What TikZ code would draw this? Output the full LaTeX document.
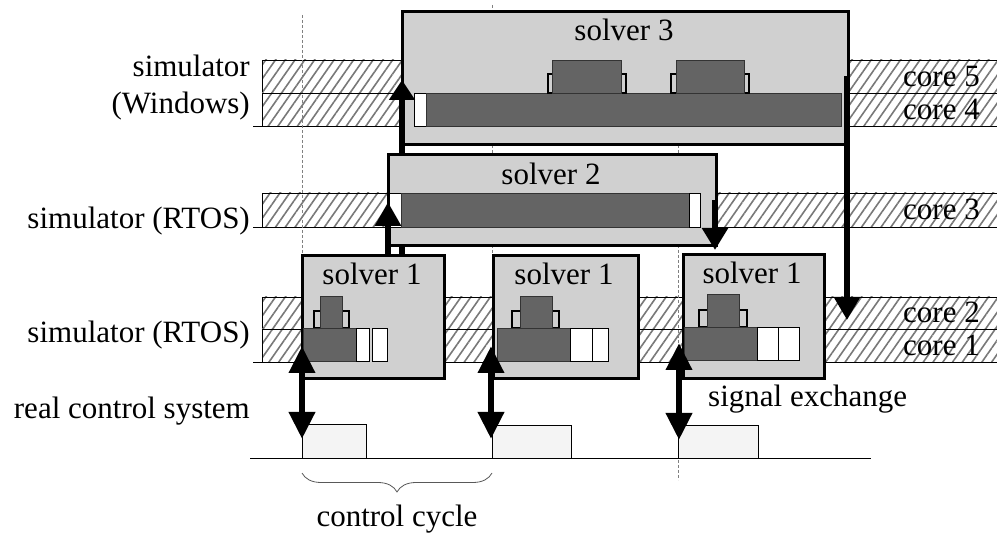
\documentclass[tikz,border=0pt]{standalone}
\usepackage{fontspec}
\setmainfont{Liberation Serif}
\usetikzlibrary{arrows.meta,patterns.meta,decorations.pathreplacing}
\definecolor{boxgray}{HTML}{D0D0D0}
\definecolor{taskdark}{HTML}{646464}
\definecolor{ctrlfill}{HTML}{F4F4F4}
\definecolor{hatchgray}{HTML}{787878}
\tikzset{
  lbl/.style={font=\fontsize{31}{36}\selectfont, inner sep=0pt},
  band/.style={draw=black, line width=0.8pt,
    pattern={Lines[angle=55,distance=8pt,line width=1.6pt]}, pattern color=hatchgray},
  solver/.style={draw=black, line width=3pt, fill=boxgray, inner sep=0pt, anchor=north west},
  task/.style={draw=black!80, line width=0.8pt, fill=taskdark},
  slot/.style={draw=black, line width=0.8pt, fill=white},
  holder/.style={draw=black, line width=2.2pt, fill=boxgray},
  ctrl/.style={draw=black, line width=0.8pt, fill=ctrlfill},
  link/.style={line width=6.5pt, -{Triangle[width=25pt,length=24pt]}},
  duplex/.style={line width=6.5pt, {Triangle[width=25pt,length=27pt]}-{Triangle[width=25pt,length=27pt]}},
  tick/.style={draw=gray, line width=0.6pt, dash pattern=on 3pt off 2pt}
}
\begin{document}
\begin{tikzpicture}[x=1pt,y=-1pt]
\useasboundingbox (0,0) rectangle (997,537);

% hatched core bands
\draw[band] (262,60) rectangle (1000,93);
\draw[band] (262,93) rectangle (1000,126);
\draw[band] (262,193) rectangle (1000,227);
\draw[band] (262,297) rectangle (1000,329);
\draw[band] (262,329) rectangle (1000,362);
\draw[line width=0.8pt] (253,126) -- (262,126);
\draw[line width=0.8pt] (253,227) -- (262,227);
\draw[line width=0.8pt] (253,362) -- (262,362);

% control cycle ticks
\draw[tick] (302,15) -- (302,458);
\draw[tick] (492,5) -- (492,458);
\draw[tick] (678,15) -- (678,480);

% real control system time line
\draw[line width=0.8pt] (250,458) -- (871,458);
\node[ctrl, inner sep=0pt, minimum width=64pt, minimum height=34pt, anchor=north west] (rc1) at (302,424) {};
\node[ctrl, inner sep=0pt, minimum width=79pt, minimum height=33pt, anchor=north west] (rc2) at (492,425) {};
\node[ctrl, inner sep=0pt, minimum width=80pt, minimum height=33pt, anchor=north west] (rc3) at (678,425) {};

% brace
\draw[gray!70!black, line width=0.8pt, decorate, decoration={brace, amplitude=19pt, mirror}]
  (302,473) coordinate (cc1) -- (492,473) coordinate (cc2);

% labels on the left
\node[lbl, anchor=base east] (simw1) at (250,77) {simulator};
\node[lbl, anchor=base east] (simw2) at (250,114) {(Windows)};
\node[lbl, anchor=base east] (simr1) at (250,229) {simulator (RTOS)};
\node[lbl, anchor=base east] (simr2) at (250,343) {simulator (RTOS)};
\node[lbl, anchor=base east] (rcs) at (250,419) {real control system};

% core labels
\node[lbl, anchor=base east] (c5) at (980,87) {core 5};
\node[lbl, anchor=base east] (c4) at (980,120) {core 4};
\node[lbl, anchor=base east] (c3) at (980,220) {core 3};
\node[lbl, anchor=base east] (c2) at (980,323) {core 2};
\node[lbl, anchor=base east] (c1) at (980,356) {core 1};

\node[lbl, anchor=base west] (sig) at (708,407) {signal exchange};
\node[lbl, anchor=base] (ccl) at (397,526) {control cycle};

% solver 3
\node[solver, minimum width=446pt, minimum height=133pt] (s3) at (401,10) {};
\node[lbl, anchor=base] (s3t) at (624,41) {solver 3};
\draw[slot] (414,93) rectangle (426,126);
\draw[task] (426,93) rectangle (841,126);
\draw[holder] (548,74) rectangle (626,93);
\draw[task] (552,60) rectangle (621,93);
\draw[holder] (671,74) rectangle (749,93);
\draw[task] (676,60) rectangle (744,93);

% solver 1 -> solver 3
\coordinate (u3a) at (402,254);
\coordinate (u3b) at (402,80);
\draw[link, -{Triangle[width=25pt,length=20pt]}] (u3a) -- (u3b);

% solver 2
\node[solver, minimum width=328pt, minimum height=91pt] (s2) at (387,153) {};
\node[lbl, anchor=base] (s2t) at (551,185) {solver 2};
\draw[slot] (389,193) rectangle (401,227);
\draw[task] (401,193) rectangle (689,227);
\draw[slot] (689,193) rectangle (700,227);

% solver 1 -> solver 2
\coordinate (u2a) at (388,254);
\coordinate (u2b) at (388,202);
\draw[link] (u2a) -- (u2b);

% solver 1, first cycle
\node[solver, minimum width=142pt, minimum height=123pt] (s1a) at (301,254) {};
\node[lbl, anchor=base] (s1at) at (372,285) {solver 1};
\draw[holder] (314,311) rectangle (349,328);
\draw[task] (320,296) rectangle (342,328);
\draw[task] (303,328) rectangle (356,361);
\draw[slot] (356,328) rectangle (369,361);
\draw[slot] (372,328) rectangle (387,361);

% solver 1, second cycle
\node[solver, minimum width=145pt, minimum height=123pt] (s1b) at (492,254) {};
\node[lbl, anchor=base] (s1bt) at (564,285) {solver 1};
\draw[holder] (512,311) rectangle (559,328);
\draw[task] (520,296) rectangle (552,328);
\draw[task] (497,328) rectangle (570,361);
\draw[slot] (570,328) rectangle (592,361);
\draw[slot] (592,328) rectangle (608,361);

% solver 1, third cycle
\node[solver, minimum width=141pt, minimum height=124pt] (s1c) at (682,253) {};
\node[lbl, anchor=base] (s1ct) at (752,284) {solver 1};
\draw[holder] (699,310) rectangle (747,327);
\draw[task] (707,294) rectangle (739,327);
\draw[task] (684,327) rectangle (757,360);
\draw[slot] (757,327) rectangle (778,360);
\draw[slot] (778,327) rectangle (799,360);

% results passed back
\coordinate (d2a) at (715,200);
\coordinate (d2b) at (715,250);
\draw[link, -{Triangle[width=25pt,length=22pt]}] (d2a) -- (d2b);
\coordinate (d3a) at (847,76);
\coordinate (d3b) at (847,320);
\draw[link, -{Triangle[width=25pt,length=23pt]}] (d3a) -- (d3b);

% signal exchange with the real control system
\coordinate (x1a) at (302,346);
\coordinate (x1b) at (302,439);
\coordinate (x2a) at (491,346);
\coordinate (x2b) at (491,439);
\coordinate (x3a) at (679,343);
\coordinate (x3b) at (679,440);
\draw[duplex] (x1a) -- (x1b);
\draw[duplex] (x2a) -- (x2b);
\draw[duplex] (x3a) -- (x3b);
\end{tikzpicture}
\end{document}
